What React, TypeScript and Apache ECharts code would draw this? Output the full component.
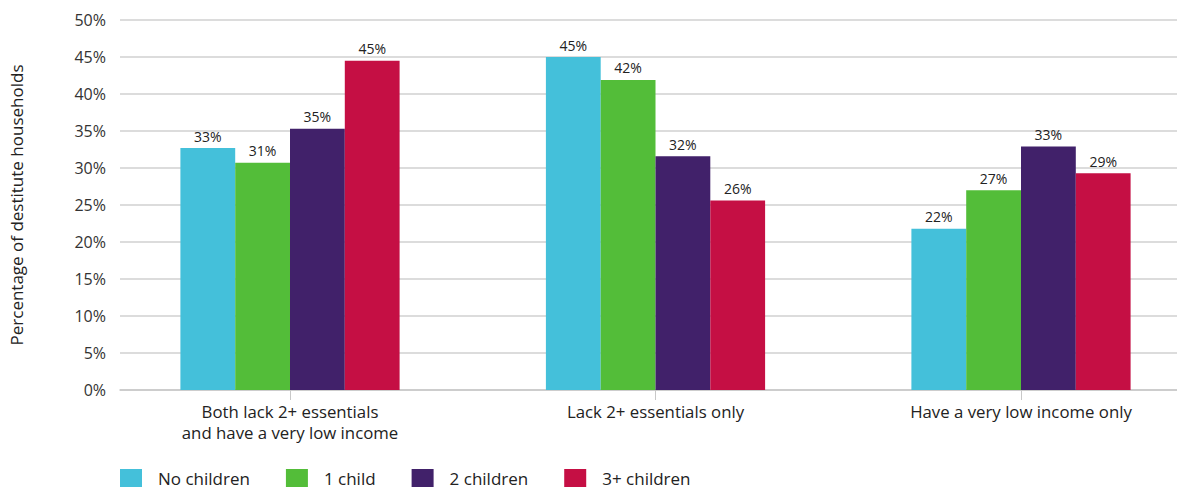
import React, { useEffect, useRef } from "react";
import * as echarts from "echarts";

const categories = [
  "Both lack 2+ essentials\nand have a very low income",
  "Lack 2+ essentials only",
  "Have a very low income only",
];
const seriesNames = ["No children", "1 child", "2 children", "3+ children"];
const noChildren = [32.7, 45.0, 21.8];
const oneChild = [30.7, 41.9, 27.0];
const twoChildren = [35.3, 31.6, 32.9];
const threePlusChildren = [44.5, 25.6, 29.3];
const colors = ["#44C0DA", "#53BD39", "#41216A", "#C50F44"];
const yTicks = [0, 5, 10, 15, 20, 25, 30, 35, 40, 45, 50];

const FONT = "'Open Sans', sans-serif";

export default function App() {
  const ref = useRef<HTMLDivElement>(null);
  useEffect(() => {
    if (!ref.current) return;
    const chart = echarts.init(ref.current, null, { renderer: "svg" });
    const values = [noChildren, oneChild, twoChildren, threePlusChildren];
    chart.setOption({
      animation: false,
      backgroundColor: "#ffffff",
      textStyle: { fontFamily: FONT },
      legend: {
        left: 115,
        top: 464,
        itemWidth: 22,
        itemHeight: 18,
        itemGap: 36,
        icon: "rect",
        textStyle: { fontSize: 17, color: "#222", fontFamily: FONT, padding: [0, 0, 0, 11] },
        data: seriesNames,
      },
      grid: [
        { left: 120, right: 0, top: 20, bottom: 98 },
        { left: 290, right: 156, top: 20, bottom: 98 },
      ],
      xAxis: [
        {
          type: "category",
          gridIndex: 0,
          data: ["a"],
          axisLine: { show: true, lineStyle: { color: "#c8c8c8", width: 1.5 } },
          axisTick: { show: false },
          axisLabel: { show: false },
        },
        {
          type: "category",
          gridIndex: 1,
          data: categories,
          boundaryGap: false,
          axisLine: { show: false },
          axisTick: { show: true, length: 10, lineStyle: { color: "#c8c8c8" } },
          axisLabel: {
            show: true,
            margin: 11,
            fontSize: 16.8,
            lineHeight: 21,
            color: "#222",
            fontFamily: FONT,
          },
        },
      ],
      yAxis: [
        {
          type: "value",
          gridIndex: 0,
          min: yTicks[0],
          max: yTicks[yTicks.length - 1],
          interval: 5,
          axisLine: { show: false },
          axisTick: { show: false },
          axisLabel: { margin: 14, fontSize: 16, color: "#333", fontFamily: FONT, formatter: "{value}%" },
          splitLine: { show: true, lineStyle: { color: "#dcdcdc", width: 2 } },
          name: "Percentage of destitute households",
          nameLocation: "middle",
          nameGap: 95,
          nameTextStyle: { fontSize: 17, color: "#222", fontFamily: FONT },
        },
        {
          type: "value",
          gridIndex: 1,
          min: yTicks[0],
          max: yTicks[yTicks.length - 1],
          interval: 5,
          show: false,
          splitLine: { show: false },
        },
      ],
      series: seriesNames.map((name, i) => ({
        name,
        type: "bar",
        xAxisIndex: 1,
        yAxisIndex: 1,
        data: values[i],
        barWidth: 54.8,
        barGap: "0%",
        clip: false,
        itemStyle: { color: colors[i] },
        label: {
          show: true,
          position: "top",
          distance: 5,
          fontSize: 14,
          color: "#222",
          fontFamily: FONT,
          formatter: (p: any) => Math.round(p.value) + "%",
        },
      })),
    });
    return () => chart.dispose();
  }, []);
  return (
    <div
      ref={ref}
      style={{ position: "fixed", left: 0, top: 0, width: 1177, height: 488 }}
    />
  );
}
